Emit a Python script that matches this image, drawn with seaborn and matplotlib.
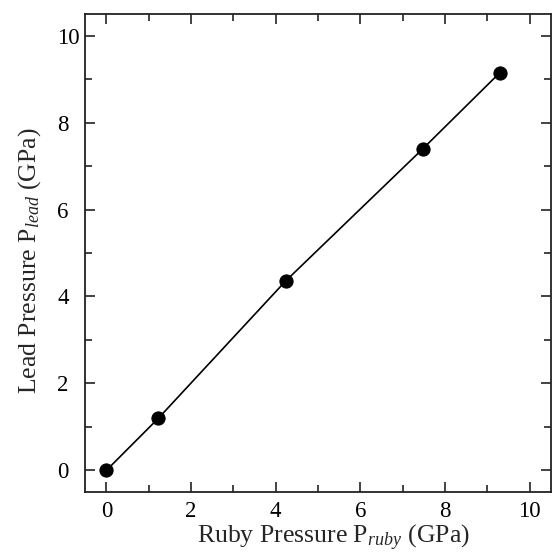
import numpy as np
import pandas as pd
import matplotlib
matplotlib.use('Agg')
import matplotlib.pyplot as plt
from matplotlib.ticker import MultipleLocator
import seaborn as sns

# dati
p_ruby = [0.0, 1.23, 4.24, 7.47, 9.3]
p_lead = [0.0, 1.20, 4.36, 7.39, 9.15]

df = pd.DataFrame({'ruby': p_ruby, 'lead': p_lead})

sns.set_style('ticks')
plt.rcParams['font.family'] = ['Liberation Serif', 'DejaVu Serif']
plt.rcParams['mathtext.fontset'] = 'custom'
plt.rcParams['mathtext.rm'] = 'Liberation Serif'
plt.rcParams['mathtext.it'] = 'Liberation Serif:italic'

fig = plt.figure(figsize=(5.53, 5.53), dpi=100)
ax = fig.add_axes([0.154, 0.110, 0.842, 0.865])

sns.lineplot(data=df, x='ruby', y='lead', color='black', linewidth=1.2, ax=ax)
sns.scatterplot(data=df, x='ruby', y='lead', color='black', s=90, edgecolor='black', zorder=3, ax=ax)

ax.set_xlim(-0.5, 10.5)
ax.set_ylim(-0.5, 10.5)
ax.xaxis.set_major_locator(MultipleLocator(2))
ax.yaxis.set_major_locator(MultipleLocator(2))
ax.xaxis.set_minor_locator(MultipleLocator(1))
ax.yaxis.set_minor_locator(MultipleLocator(1))
ax.tick_params(which='both', direction='in', top=True, right=True, width=1.2, colors='#222222', labelcolor='black', labelsize=16.5)
ax.tick_params(axis='y', which='both', pad=20)
ax.tick_params(axis='x', which='both', pad=6)
ax.tick_params(which='major', length=7)
ax.tick_params(which='minor', length=5)
plt.setp(ax.get_yticklabels(), ha='left')  # etichette allineate a sinistra come nell'originale
for s in ax.spines.values():
    s.set_linewidth(1.3)
    s.set_color('#222222')

ax.set_xlabel('Ruby Pressure P$_{ruby}$ (GPa)', fontsize=18.5, labelpad=1)
ax.set_ylabel('Lead Pressure P$_{lead}$ (GPa)', fontsize=18.5, labelpad=10)
ax.xaxis.label.set_x(0.534)
ax.yaxis.label.set_y(0.483)

plt.savefig('out.png', dpi=100)
plt.close()
